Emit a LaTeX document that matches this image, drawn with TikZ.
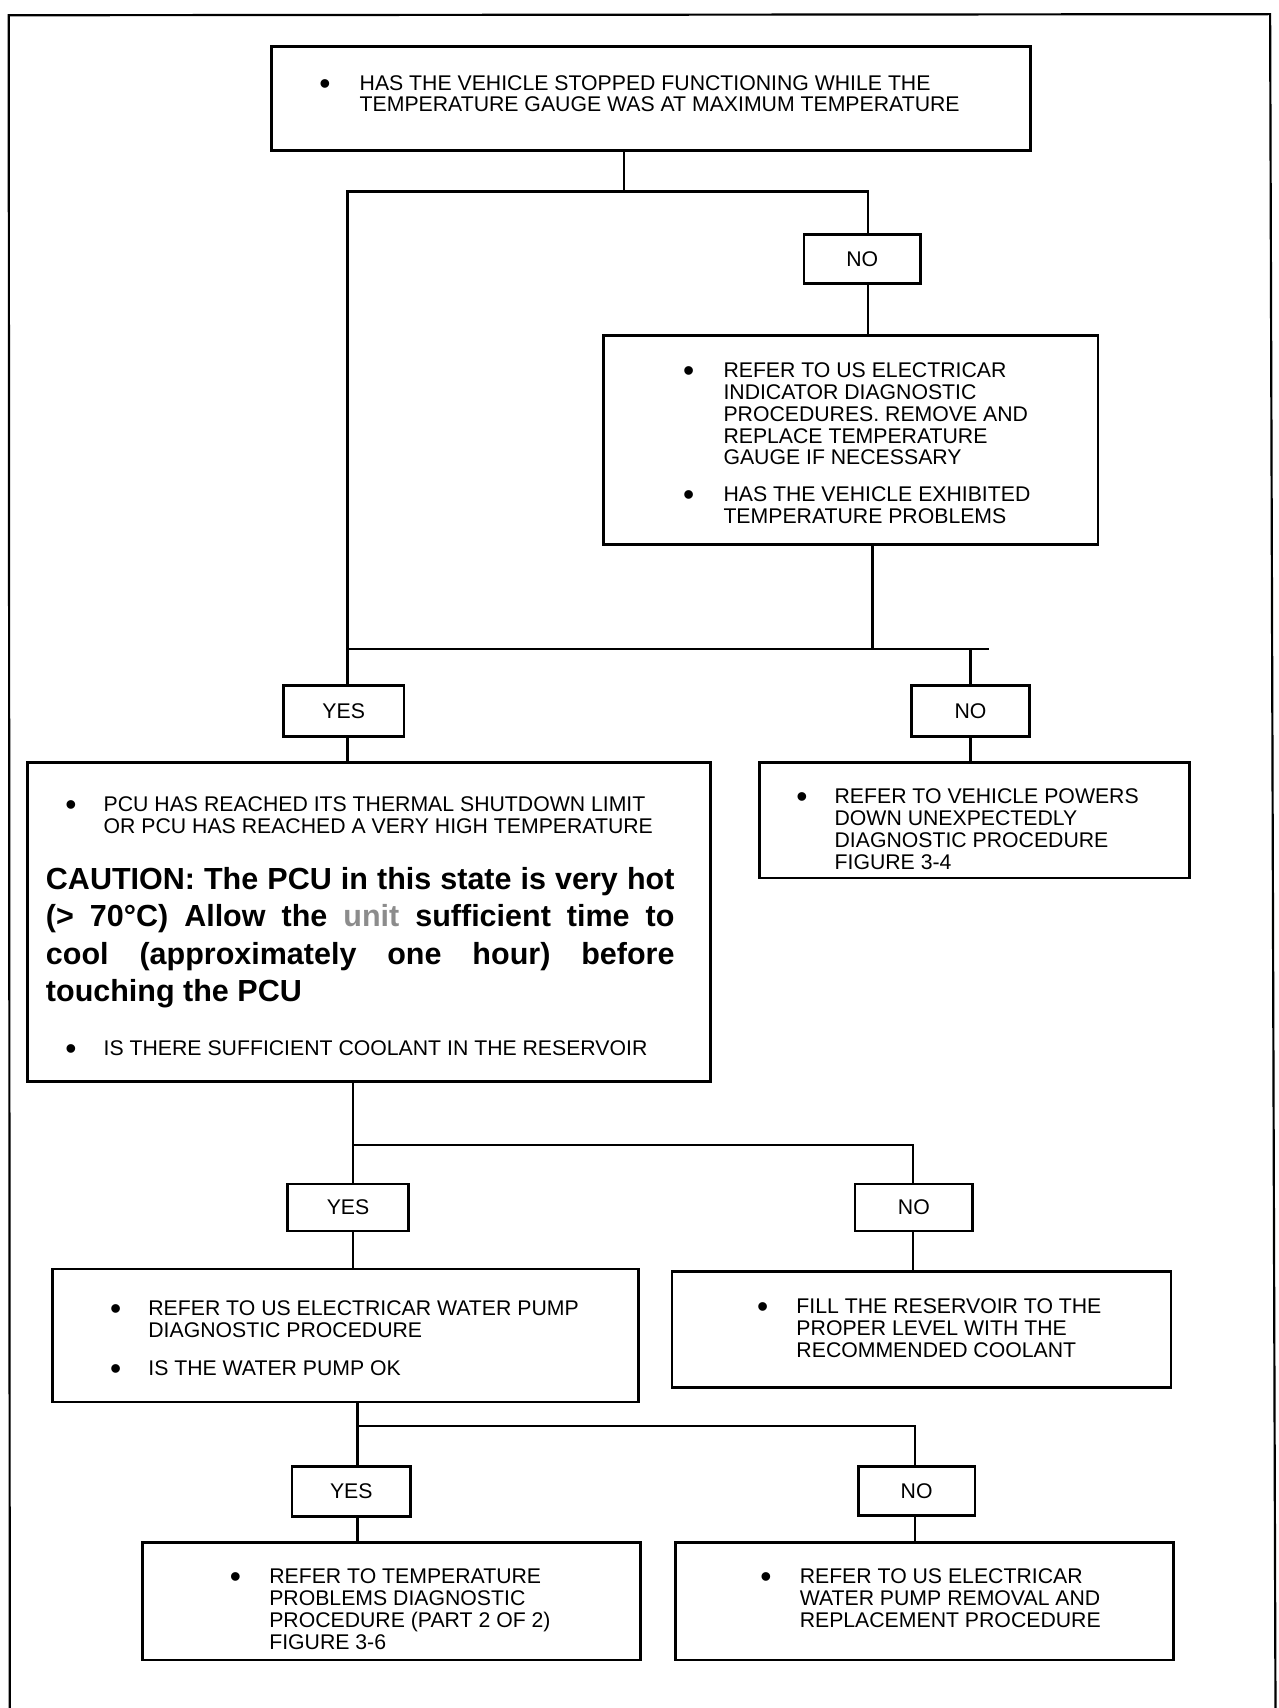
\documentclass[tikz,border=0pt]{standalone}
\usepackage{fontspec}
\setmainfont{Liberation Sans}
% bullet centred on the node's west edge, then the item lines
\newcommand\bigbullet{\raisebox{-3.6pt}{\scalebox{1.5}{\textbullet}}}
\newcommand\bl[2]{\makebox[0pt]{\bigbullet}\hspace*{#1pt}\begin{tabular}[t]{@{}l@{}}#2\end{tabular}}
\newcommand\jline[1]{\makebox[577pt][s]{#1}}
\begin{document}
\begin{tikzpicture}[x=1pt,y=-1pt,
  frame/.style={line width=2pt},
  box/.style={draw, line width=2.5pt, inner sep=0pt},
  yn/.style={box, font=\fontsize{19.5}{20}\selectfont},
  link/.style={line width=2.3pt},
  txt/.style={inner sep=0pt, anchor=base west, font=\fontsize{19.5}{20}\selectfont},
  caution/.style={inner sep=0pt, anchor=base west, font=\fontsize{28}{34}\selectfont\bfseries}]
\useasboundingbox (0,0) rectangle (1174,1568);

% page frame (open at the bottom)
\draw[frame] (9,1590) -- (8,14) -- (1166,13) -- (1171,1590);

% decision and action boxes
\node[box, minimum width=697pt, minimum height=95pt]  (q1)  at (597.5,90.5) {};
\node[yn,  minimum width=107pt, minimum height=45pt]  (no1) at (791.5,237.5) {NO};
\node[box, minimum width=454pt, minimum height=192pt] (r1)  at (781,404) {};
\node[yn,  minimum width=111pt, minimum height=47pt]  (yes2) at (315.5,652.5) {YES};
\node[yn,  minimum width=108pt, minimum height=47pt]  (no2) at (891,652.5) {NO};
\node[box, minimum width=627pt, minimum height=293pt] (pcu) at (338.5,846.5) {};
\node[box, minimum width=395pt, minimum height=106pt] (n2)  at (894.5,753) {};
\node[yn,  minimum width=111pt, minimum height=43pt]  (yes3) at (319.5,1108.5) {YES};
\node[yn,  minimum width=108pt, minimum height=43pt]  (no3) at (839,1108.5) {NO};
\node[box, minimum width=538pt, minimum height=122pt] (wp)  at (317,1226) {};
\node[box, minimum width=458pt, minimum height=107pt] (fill) at (846,1220.5) {};
\node[yn,  minimum width=109pt, minimum height=46pt]  (yes4) at (322.5,1369) {YES};
\node[yn,  minimum width=107pt, minimum height=45pt]  (no4) at (841.5,1368.5) {NO};
\node[box, minimum width=457pt, minimum height=108pt] (tp)  at (359.5,1470) {};
\node[box, minimum width=457pt, minimum height=108pt] (rp)  at (848.5,1470) {};

% box texts
\node[txt] (q1t) at (298,82.8) {\bl{32}{HAS THE VEHICLE STOPPED FUNCTIONING WHILE THE\\TEMPERATURE GAUGE WAS AT MAXIMUM TEMPERATURE}};
\node[txt] (r1a) at (632,346.8) {\bl{32}{REFER TO US ELECTRICAR\\INDICATOR DIAGNOSTIC\\PROCEDURES. REMOVE AND\\REPLACE TEMPERATURE\\GAUGE IF NECESSARY}};
\node[txt] (r1b) at (632,460.8) {\bl{32}{HAS THE VEHICLE EXHIBITED\\TEMPERATURE PROBLEMS}};
\node[txt] (pcua) at (65,744.8) {\bl{30}{PCU HAS REACHED ITS THERMAL SHUTDOWN LIMIT\\OR PCU HAS REACHED A VERY HIGH TEMPERATURE}};
\node[caution] (pcuc) at (42,817) {\begin{tabular}[t]{@{}l@{}}
  \jline{CAUTION: The PCU in this state is very hot}\\
  \jline{(> 70°C) Allow the \textcolor{black!45}{unit} sufficient time to}\\
  \jline{cool (approximately one hour) before}\\
  touching the PCU\end{tabular}};
\node[txt] (pcub) at (65,968.8) {\bl{30}{IS THERE SUFFICIENT COOLANT IN THE RESERVOIR}};
\node[txt] (n2t) at (736,737.8) {\bl{30}{REFER TO VEHICLE POWERS\\DOWN UNEXPECTEDLY\\DIAGNOSTIC PROCEDURE\\FIGURE 3-4}};
\node[txt] (wpa) at (106,1207.8) {\bl{30}{REFER TO US ELECTRICAR WATER PUMP\\DIAGNOSTIC PROCEDURE}};
\node[txt] (wpb) at (106,1262.8) {\bl{30}{IS THE WATER PUMP OK}};
\node[txt] (fillt) at (700,1205.8) {\bl{31}{FILL THE RESERVOIR TO THE\\PROPER LEVEL WITH THE\\RECOMMENDED COOLANT}};
\node[txt] (tpt) at (216,1453.8) {\bl{31}{REFER TO TEMPERATURE\\PROBLEMS DIAGNOSTIC\\PROCEDURE (PART 2 OF 2)\\FIGURE 3-6}};
\node[txt] (rpt) at (703,1453.8) {\bl{31}{REFER TO US ELECTRICAR\\WATER PUMP REMOVAL AND\\REPLACEMENT PROCEDURE}};

% branch points
\coordinate (s1)  at (573,176);
\coordinate (s1l) at (319,176);
\coordinate (s1r) at (797,176);
\coordinate (r1d) at (801,596);
\coordinate (m1)  at (319,596);
\coordinate (m1r) at (891,596);
\coordinate (m1e) at (908,596);
\coordinate (m2)  at (324,1051);
\coordinate (m2r) at (838,1051);
\coordinate (m3)  at (328,1309);
\coordinate (m3r) at (840,1309);

% connectors
\draw[link] (q1.south -| s1) -- (s1);
\draw[link] (yes2.north -| s1l) -- (s1l) -- (s1r) -- (no1.north -| s1r);
\draw[link] (no1.south -| s1r) -- (r1.north -| s1r);
\draw[link] (r1.south -| r1d) -- (r1d);
\draw[link] (m1) -- (m1e);
\draw[link] (m1r) -- (no2.north -| m1r);
\draw[link] (yes2.south -| m1) -- (pcu.north -| m1);
\draw[link] (no2.south -| m1r) -- (n2.north -| m1r);
\draw[link] (pcu.south -| m2) -- (m2) -- (m2r) -- (no3.north -| m2r);
\draw[link] (m2) -- (yes3.north -| m2);
\draw[link] (yes3.south -| m2) -- (wp.north -| m2);
\draw[link] (no3.south -| m2r) -- (fill.north -| m2r);
\draw[link] (wp.south -| m3) -- (m3) -- (m3r) -- (no4.north -| m3r);
\draw[link] (m3) -- (yes4.north -| m3);
\draw[link] (yes4.south -| m3) -- (tp.north -| m3);
\draw[link] (no4.south -| m3r) -- (rp.north -| m3r);
\end{tikzpicture}
\end{document}
